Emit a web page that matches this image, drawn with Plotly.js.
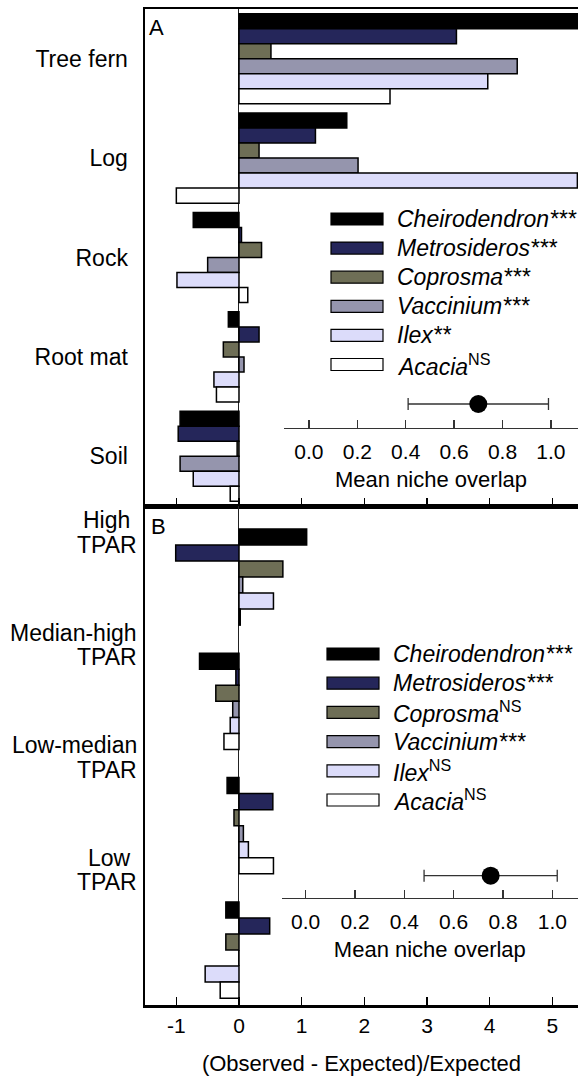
<!DOCTYPE html>
<html>
<head>
<meta charset="utf-8">
<script src="https://cdn.plot.ly/plotly-3.0.1.min.js"></script>
<style>
  html, body { margin: 0; padding: 0; background: #fff; }
  #chart { width: 578px; height: 1076px; }
</style>
</head>
<body>
<div id="chart"></div>
<script>
// ---- Data -------------------------------------------------------------
// Panel A: substrate categories
const substrates = ['Tree fern', 'Log', 'Rock', 'Root mat', 'Soil'];
// Panel B: light (TPAR) categories, and their two-line labels
const lightClasses = ['High TPAR', 'Median-high TPAR', 'Low-median TPAR', 'Low TPAR'];
const lightLabelTop = ['High\u00a0', 'Median-high', 'Low-median', 'Low\u00a0'];
const lightLabelBottom = ['TPAR', 'TPAR', 'TPAR', 'TPAR'];

const species = ['Cheirodendron', 'Metrosideros', 'Coprosma', 'Vaccinium', 'Ilex', 'Acacia'];
const significanceA = ['***', '***', '***', '***', '**', 'NS'];
const significanceB = ['***', '***', 'NS', '***', 'NS', 'NS'];

// (Observed - Expected)/Expected, substrate
const cheirodendronA = [5.60, 1.72, -0.73, -0.17, -0.94];
const metrosiderosA  = [3.47, 1.22, 0.04, 0.32, -0.97];
const coprosmaA      = [0.51, 0.32, 0.36, -0.25, -0.03];
const vacciniumA     = [4.44, 1.90, -0.50, 0.08, -0.94];
const ilexA          = [3.97, 5.40, -0.99, -0.40, -0.73];
const acaciaA        = [2.41, -1.00, 0.14, -0.36, -0.14];

// (Observed - Expected)/Expected, light class
const cheirodendronB = [1.08, -0.63, -0.19, -0.21];
const metrosiderosB  = [-1.01, -0.05, 0.54, 0.49];
const coprosmaB      = [0.70, -0.37, -0.08, -0.21];
const vacciniumB     = [0.06, -0.10, 0.07, 0.00];
const ilexB          = [0.55, -0.14, 0.15, -0.54];
const acaciaB        = [0.02, -0.24, 0.55, -0.30];

// Mean niche overlap with its interval (panel A, panel B)
const overlapMean = [0.70, 0.75];
const overlapLow  = [0.41, 0.48];
const overlapHigh = [0.99, 1.02];

const xTicks = [-1, 0, 1, 2, 3, 4, 5];
const xTickText = ['-1', '0', '1', '2', '3', '4', '5'];

// ---- Styling ----------------------------------------------------------
const colors = ['#000000', '#25265a', '#6e6e56', '#9595ad', '#dcdcfa', '#ffffff'];
const FONT = 'Liberation Sans, Arial, Helvetica, sans-serif';

const W = 578, H = 1076;
const M = { l: 145, r: 0, t: 9, b: 71 };
const plotW = W - M.l - M.r, plotH = H - M.t - M.b;
const px = x => (x - M.l) / plotW;          // pixel -> paper x
const py = y => (H - M.b - y) / plotH;      // pixel -> paper y

const seriesA = [cheirodendronA, metrosiderosA, coprosmaA, vacciniumA, ilexA, acaciaA];
const seriesB = [cheirodendronB, metrosiderosB, coprosmaB, vacciniumB, ilexB, acaciaB];

const barWA = 0.151, barWB = 0.129;
const traces = [];

seriesA.forEach((vals, i) => {
  traces.push({
    type: 'bar', orientation: 'h',
    x: vals, y: substrates,
    xaxis: 'x', yaxis: 'y',
    width: barWA, offset: (i - 3) * barWA,
    marker: { color: colors[i], line: { color: '#000', width: 1.5 } },
    name: species[i], showlegend: false, hoverinfo: 'x+y+name'
  });
});
seriesB.forEach((vals, i) => {
  traces.push({
    type: 'bar', orientation: 'h',
    x: vals, y: lightClasses,
    xaxis: 'x2', yaxis: 'y2',
    width: barWB, offset: (i - 3) * barWB,
    marker: { color: colors[i], line: { color: '#000', width: 1.5 } },
    name: species[i], showlegend: false, hoverinfo: 'x+y+name'
  });
});

// mean niche overlap points with intervals
[['x3', 'y3'], ['x4', 'y4']].forEach((ax, k) => {
  traces.push({
    type: 'scatter', mode: 'markers',
    x: [overlapMean[k]], y: ['mean'],
    xaxis: ax[0], yaxis: ax[1],
    marker: { color: '#000', size: 18 },
    error_x: {
      type: 'data', symmetric: false,
      array: [overlapHigh[k] - overlapMean[k]],
      arrayminus: [overlapMean[k] - overlapLow[k]],
      color: '#333', thickness: 1.3, width: 6
    },
    showlegend: false, hoverinfo: 'x'
  });
});

const mainX = {
  range: [-1.5, 5.41], tickvals: xTicks, ticktext: xTickText,
  ticks: 'inside', ticklen: 8, tickwidth: 1.5, tickcolor: '#000',
  showline: true, linewidth: 2.5, linecolor: '#000', mirror: true,
  zeroline: true, zerolinecolor: '#222', zerolinewidth: 1,
  showgrid: false, fixedrange: true
};
const insetX = {
  dtick: 0.2, tick0: 0, tickformat: '.1f',
  ticks: 'inside', ticklen: 8, tickwidth: 1.3, tickcolor: '#333',
  showline: true, linewidth: 1.3, linecolor: '#333',
  zeroline: false, showgrid: false,
  tickfont: { size: 21, color: '#000' },
  ticklabelstandoff: 5,
  title: { text: 'Mean niche overlap', font: { size: 22, color: '#000' }, standoff: 9 }
};

const annotations = [];
// panel letters
annotations.push({ text: 'A', xref: 'paper', yref: 'paper', x: px(147), y: py(27),
  xanchor: 'left', yanchor: 'middle', showarrow: false, font: { size: 22 } });
annotations.push({ text: 'B', xref: 'paper', yref: 'paper', x: px(149), y: py(526),
  xanchor: 'left', yanchor: 'middle', showarrow: false, font: { size: 22 } });

// light class labels, evenly spaced down the left of panel B
lightClasses.forEach((c, i) => {
  const top = 520 + i * 112.6;
  [[lightLabelTop[i], top], [lightLabelBottom[i], top + 24.5]].forEach(([t, yy]) => {
    annotations.push({ text: t, xref: 'paper', yref: 'paper',
      x: px(139), y: py(yy), xanchor: 'right', yanchor: 'middle',
      align: 'right', showarrow: false, font: { size: 23 } });
  });
});

// custom legends
const shapes = [];
function legendLabel(name, sig) {
  return sig === 'NS' ? '<i>' + name + '</i><sup>NS</sup>' : '<i>' + name + sig + '</i>';
}
function addLegend(top, step, x0, x1, tx, sigs) {
  species.forEach((sp, i) => {
    const cy = top + i * step;
    shapes.push({ type: 'rect', xref: 'paper', yref: 'paper',
      x0: px(x0), x1: px(x1), y0: py(cy - 6), y1: py(cy + 6),
      fillcolor: colors[i], line: { color: '#000', width: 1.2 } });
    annotations.push({ text: legendLabel(sp, sigs[i]), xref: 'paper', yref: 'paper',
      x: px(tx), y: py(cy), xanchor: 'left', yanchor: 'middle',
      showarrow: false, font: { size: 23 } });
  });
}
addLegend(219, 29.1, 331, 383, 395, significanceA);
addLegend(654, 29.2, 327, 379, 391, significanceB);

const layout = {
  width: W, height: H,
  margin: M,
  paper_bgcolor: '#fff', plot_bgcolor: 'rgba(0,0,0,0)',
  font: { family: FONT, size: 22, color: '#000' },
  barmode: 'overlay',
  showlegend: false,
  xaxis: Object.assign({}, mainX, { domain: [0, 1], anchor: 'y', showticklabels: false }),
  yaxis: {
    domain: [py(506), 1], anchor: 'x', type: 'category',
    range: [4.5, -0.5], showline: true, linewidth: 2.5, linecolor: '#000',
    ticks: '', ticklabelstandoff: 10, tickfont: { size: 23 },
    showgrid: false, zeroline: false, fixedrange: true
  },
  xaxis2: Object.assign({}, mainX, {
    domain: [0, 1], anchor: 'y2', matches: 'x',
    tickfont: { size: 21 }, ticklabelstandoff: 0,
    title: { text: '(Observed - Expected)/Expected', font: { size: 22 }, standoff: 22 }
  }),
  yaxis2: {
    domain: [0, py(506)], anchor: 'x2', type: 'category',
    range: [3.442, -0.571], showline: true, linewidth: 2.5, linecolor: '#000',
    showticklabels: false, ticks: '', showgrid: false, zeroline: false, fixedrange: true
  },
  xaxis3: Object.assign({}, insetX, { domain: [px(284), 1], anchor: 'y3', range: [-0.103, 1.112] }),
  yaxis3: { domain: [py(427.7), py(380.3)], anchor: 'x3', type: 'category', range: [-1, 1], visible: false },
  xaxis4: Object.assign({}, insetX, { domain: [px(281.7), 1], anchor: 'y4', range: [-0.0973, 1.1042] }),
  yaxis4: { domain: [py(897.7), py(853.7)], anchor: 'x4', type: 'category', range: [-1, 1], visible: false },
  annotations: annotations,
  shapes: shapes
};

Plotly.newPlot('chart', traces, layout, { displayModeBar: false, staticPlot: true });
</script>
</body>
</html>
